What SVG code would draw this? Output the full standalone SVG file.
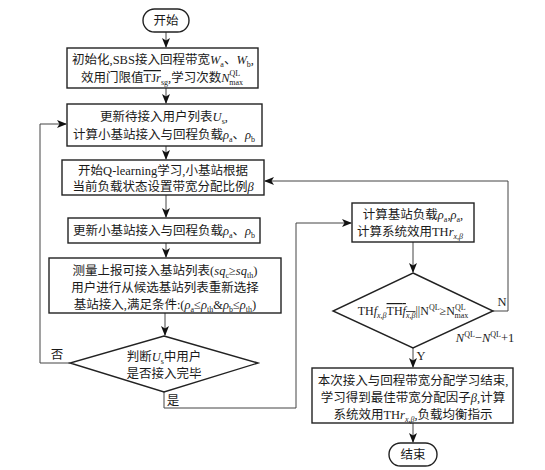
<svg xmlns="http://www.w3.org/2000/svg" width="545" height="470" viewBox="0 0 545 470">
<style>
text{font-family:"Liberation Serif","Noto Sans CJK SC",serif;font-size:12.5px;fill:#1a1a1a;text-anchor:middle}
.box{fill:#fff;stroke:#222;stroke-width:1.4}
.ln{fill:none;stroke:#444;stroke-width:1}
.i{font-style:italic}
.s{font-size:8px}
</style>
<defs>
<marker id="ar" markerWidth="10" markerHeight="8" refX="9" refY="4" orient="auto" markerUnits="userSpaceOnUse">
<path d="M0,0 L10,4 L0,8 L2.5,4 Z" fill="#111"/>
</marker>
</defs>
<rect width="545" height="470" fill="#fff"/>
<g id="connectors">
<line class="ln" x1="166" y1="32" x2="166" y2="47" marker-end="url(#ar)"/>
<line class="ln" x1="166" y1="88" x2="166" y2="103" marker-end="url(#ar)"/>
<line class="ln" x1="166" y1="146" x2="166" y2="159" marker-end="url(#ar)"/>
<line class="ln" x1="166" y1="195" x2="166" y2="217" marker-end="url(#ar)"/>
<line class="ln" x1="166" y1="243" x2="166" y2="257" marker-end="url(#ar)"/>
<line class="ln" x1="165" y1="313" x2="165" y2="335" marker-end="url(#ar)"/>
<polyline class="ln" points="70,363 40,363 40,124 66,124" marker-end="url(#ar)"/>
<polyline class="ln" points="164,392 164,408 296,408 296,223 351,223" marker-end="url(#ar)"/>
<line class="ln" x1="413" y1="242" x2="413" y2="272" marker-end="url(#ar)"/>
<polyline class="ln" points="493,311 508,311 508,181 265,181" marker-end="url(#ar)"/>
<line class="ln" x1="413" y1="348" x2="413" y2="367" marker-end="url(#ar)"/>
<line class="ln" x1="413" y1="423" x2="413" y2="442" marker-end="url(#ar)"/>
<text x="57" y="359">否</text>
<text x="173" y="405">是</text>
<text x="502" y="306">N</text>
<text x="421" y="360">Y</text>
<text x="485" y="342"><tspan class="i">N</tspan><tspan class="s" dy="-5">QL</tspan><tspan dy="5">−</tspan><tspan class="i">N</tspan><tspan class="s" dy="-5">QL</tspan><tspan dy="5">+1</tspan></text>
</g>
<g id="start">
<rect class="box" x="143" y="9" width="46" height="23" rx="11.5"/>
<text x="166" y="25">开始</text>
</g>
<g id="init">
<rect class="box" x="67" y="48" width="191" height="40"/>
<text x="163" y="64">初始化,SBS接入回程带宽<tspan class="i">W</tspan><tspan class="s" dy="3">a</tspan><tspan dy="-3">、</tspan><tspan class="i">W</tspan><tspan class="s" dy="3">b</tspan><tspan dy="-3">,</tspan></text>
<text x="162" y="82">效用门限值<tspan text-decoration="overline">TJ<tspan class="i">r</tspan></tspan><tspan class="s" dy="3">sg</tspan><tspan dy="-3">,学习次数</tspan><tspan class="i">N</tspan><tspan class="s" dy="-6">QL</tspan><tspan class="s" dx="-11" dy="9">max</tspan></text>
</g>
<g id="update-users">
<rect class="box" x="67" y="104" width="195" height="42"/>
<text x="164" y="121">更新待接入用户列表<tspan class="i">U</tspan><tspan class="s" dy="3">s</tspan><tspan dy="-3">,</tspan></text>
<text x="164" y="139">计算小基站接入与回程负载<tspan class="i">ρ</tspan><tspan class="s" dy="3">a</tspan><tspan dy="-3">、</tspan><tspan class="i">ρ</tspan><tspan class="s" dy="3">b</tspan></text>
</g>
<g id="qlearning">
<rect class="box" x="62" y="160" width="202" height="35"/>
<text x="163" y="175">开始Q-learning学习,小基站根据</text>
<text x="163" y="191">当前负载状态设置带宽分配比例<tspan class="i">β</tspan></text>
</g>
<g id="update-load">
<rect class="box" x="68" y="218" width="192" height="25"/>
<text x="164" y="235">更新小基站接入与回程负载<tspan class="i">ρ</tspan><tspan class="s" dy="3">a</tspan><tspan dy="-3">、</tspan><tspan class="i">ρ</tspan><tspan class="s" dy="3">b</tspan></text>
</g>
<g id="measure">
<rect class="box" x="49" y="258" width="232" height="55"/>
<text x="165" y="275">测量上报可接入基站列表(<tspan class="i">sq</tspan><tspan class="s" dy="3">c</tspan><tspan dy="-3">≥</tspan><tspan class="i">sq</tspan><tspan class="s" dy="3">th</tspan><tspan dy="-3">)</tspan></text>
<text x="165" y="292">用户进行从候选基站列表重新选择</text>
<text x="165" y="309">基站接入,满足条件:(<tspan class="i">ρ</tspan><tspan class="s" dy="3">a</tspan><tspan dy="-3">≤</tspan><tspan class="i">ρ</tspan><tspan class="s" dy="3">th</tspan><tspan dy="-3">&amp;</tspan><tspan class="i">ρ</tspan><tspan class="s" dy="3">b</tspan><tspan dy="-3">≤</tspan><tspan class="i">ρ</tspan><tspan class="s" dy="3">th</tspan><tspan dy="-3">)</tspan></text>
</g>
<g id="judge">
<polygon class="box" points="164,336 258,363 164,392 70,363"/>
<text x="164" y="361">判断<tspan class="i">U</tspan><tspan class="s" dy="3">s</tspan><tspan dy="-3">中用户</tspan></text>
<text x="164" y="378">是否接入完毕</text>
</g>
<g id="calc-load">
<rect class="box" x="352" y="203" width="122" height="39"/>
<text x="413" y="219">计算基站负载<tspan class="i">ρ</tspan><tspan class="s" dy="3">a</tspan><tspan dy="-3">,</tspan><tspan class="i">ρ</tspan><tspan class="s" dy="3">a</tspan><tspan dy="-3">,</tspan></text>
<text x="410" y="236">计算系统效用TH<tspan class="i">r</tspan><tspan class="s i" dy="3">x,β</tspan></text>
</g>
<g id="check">
<polygon class="box" points="413,273 493,311 413,348 333,311"/>
<text x="413" y="315" style="font-size:12px">TH<tspan class="i">f</tspan><tspan class="s i" dy="3">x,β</tspan><tspan dy="-3" text-decoration="overline">TH<tspan class="i">f</tspan><tspan class="s i" dy="3">x,β</tspan></tspan><tspan dy="-3">||N</tspan><tspan class="s" dy="-5">QL</tspan><tspan dy="5">≥N</tspan><tspan class="s" dy="-5">QL</tspan><tspan class="s" dx="-11" dy="8">max</tspan></text>
</g>
<g id="finish-learning">
<rect class="box" x="312" y="368" width="201" height="55"/>
<text x="413" y="385">本次接入与回程带宽分配学习结束,</text>
<text x="413" y="402">学习得到最佳带宽分配因子<tspan class="i">β</tspan>,计算</text>
<text x="413" y="419">系统效用TH<tspan class="i">r</tspan><tspan class="s i" dy="3">x,β</tspan><tspan dy="-3">,负载均衡指示</tspan></text>
</g>
<g id="end">
<rect class="box" x="389" y="443" width="48" height="23" rx="11.5"/>
<text x="413" y="459">结束</text>
</g>
</svg>
